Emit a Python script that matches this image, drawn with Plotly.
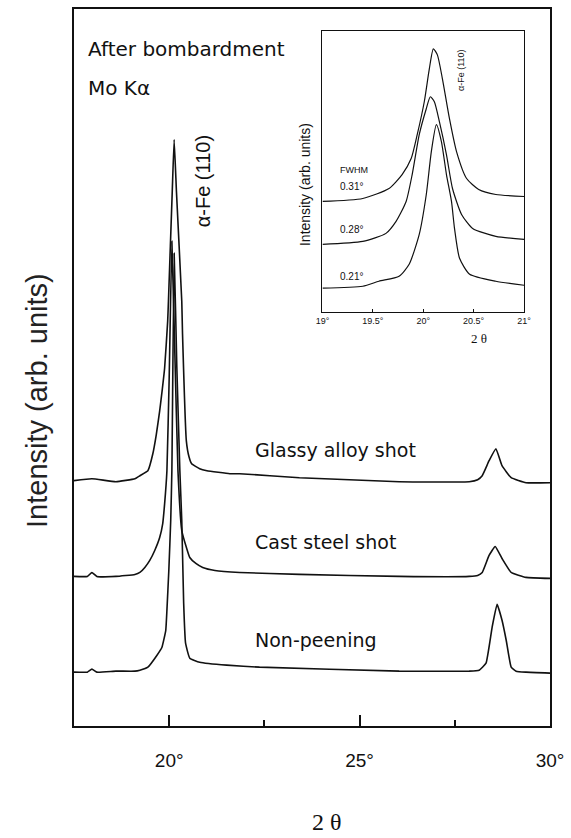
import plotly.graph_objects as go

# ---------------- main panel data (2θ in degrees, intensity arb. units, offset curves) ----------------
glassy_2theta = [17.5, 17.97, 18.6, 19.1, 19.23, 19.44, 19.57, 19.66, 19.75, 19.82, 19.88, 19.96, 19.98,
                 20.08, 20.13, 20.19, 20.33, 20.35, 20.45, 20.52, 20.59, 20.8, 20.99, 21.59, 21.85, 23.42,
                 26.04, 27.88, 28.1, 28.22, 28.4, 28.58, 28.74, 28.98, 29.37, 30.0]
glassy_intensity = [246, 248, 245, 248, 251, 256, 273, 292, 316, 338, 359, 406, 426,
                    536, 588, 536, 426, 393, 286, 270, 263, 258, 256, 253, 253, 249,
                    245, 245, 247, 251, 266, 278, 261, 249, 244, 244]

cast_2theta = [17.5, 17.85, 17.97, 18.1, 18.6, 19.1, 19.23, 19.36, 19.49, 19.62, 19.75, 19.83, 19.88, 19.94,
               20.0, 20.07, 20.15, 20.23, 20.33, 20.46, 20.54, 20.7, 20.88, 21.2, 21.85, 23.42, 26.04,
               27.88, 28.1, 28.22, 28.4, 28.56, 28.74, 28.98, 29.37, 30.0]
cast_intensity = [150, 150, 154, 150, 150, 152, 154, 159, 166, 176, 189, 203, 223, 256,
                  350, 486, 371, 256, 196, 178, 169, 163, 159, 156, 154, 152, 150,
                  150, 151, 154, 171, 180, 168, 154, 149, 148]

nonpeen_2theta = [17.5, 17.85, 17.97, 18.1, 18.6, 19.1, 19.23, 19.44, 19.68, 19.81, 19.91, 19.94, 19.99,
                  20.04, 20.07, 20.13, 20.2, 20.28, 20.33, 20.38, 20.43, 20.54, 20.8, 21.51, 22.37,
                  26.04, 27.88, 28.14, 28.32, 28.48, 28.61, 28.74, 28.85, 28.98, 29.11, 29.37, 30.0]
nonpeen_intensity = [54, 54, 57, 54, 55, 55, 56, 59, 71, 79, 96, 116, 156,
                     206, 256, 474, 360, 256, 206, 123, 83, 68, 64, 61, 59,
                     55, 55, 56, 63, 99, 122, 106, 86, 59, 55, 54, 53]

# ---------------- inset data (α-Fe(110) peak, offset curves) ----------------
inset_2theta_031 = [19.0, 19.4, 19.66, 19.79, 19.88, 19.94, 20.01, 20.06, 20.10, 20.14, 20.19, 20.26,
                    20.33, 20.43, 20.55, 20.72, 21.0]
inset_int_031 = [111, 114, 124, 138, 154, 178, 211, 244, 264, 258, 234, 194, 161, 134, 123, 118, 116]

inset_2theta_028 = [19.0, 19.4, 19.63, 19.73, 19.83, 19.89, 19.96, 20.03, 20.07, 20.11, 20.16, 20.23,
                    20.29, 20.38, 20.49, 20.72, 21.0]
inset_int_028 = [68, 71, 79, 91, 111, 138, 178, 204, 216, 211, 191, 158, 124, 98, 84, 76, 73]

inset_2theta_021 = [19.0, 19.4, 19.56, 19.76, 19.86, 19.96, 20.03, 20.08, 20.13, 20.18, 20.23, 20.28,
                    20.31, 20.36, 20.46, 20.72, 21.0]
inset_int_021 = [24, 26, 31, 36, 48, 78, 118, 161, 188, 171, 138, 111, 84, 54, 38, 31, 27]

# ---------------- ticks and labels ----------------
main_tickvals = [20, 25, 30]
main_ticktext = ["20°", "25°", "30°"]
main_minor_ticks = [22.5, 27.5]
inset_tickvals = [19, 19.5, 20, 20.5, 21]
inset_ticktext = ["19°", "19.5°", "20°", "20.5°", "21°"]
curve_labels = ["Glassy alloy shot", "Cast steel shot", "Non-peening"]
fwhm_labels = ["FWHM", "0.31°", "0.28°", "0.21°"]

BLACK = "#111111"
fig = go.Figure()

for xs, ys in [(glassy_2theta, glassy_intensity), (cast_2theta, cast_intensity),
               (nonpeen_2theta, nonpeen_intensity)]:
    fig.add_trace(go.Scatter(x=xs, y=ys, mode="lines",
                             line=dict(color=BLACK, width=1.6, shape="spline", smoothing=0.35),
                             xaxis="x", yaxis="y", showlegend=False, hoverinfo="skip"))

for xs, ys in [(inset_2theta_031, inset_int_031), (inset_2theta_028, inset_int_028),
               (inset_2theta_021, inset_int_021)]:
    fig.add_trace(go.Scatter(x=xs, y=ys, mode="lines", line=dict(color=BLACK, width=1.2, shape="spline", smoothing=0.6),
                             xaxis="x2", yaxis="y2", showlegend=False, hoverinfo="skip"))

W, H = 571, 838
L, R, T, B = 74, 20, 7, 112
PW, PH = W - L - R, H - T - B


def px(x):
    return (x - L) / PW


def py(y):
    return (H - B - y) / PH


fig.update_layout(
    width=W, height=H,
    margin=dict(l=L, r=R, t=T, b=B),
    paper_bgcolor="white", plot_bgcolor="white",
    showlegend=False,
    xaxis=dict(domain=[0, 1], range=[17.5, 30], showline=True, linecolor=BLACK, linewidth=1.6, mirror=True,
               ticks="inside", ticklen=11, tickwidth=1.5, tickcolor=BLACK,
               tickmode="array", tickvals=main_tickvals, ticktext=main_ticktext,
               tickfont=dict(family="Liberation Sans, Arial, sans-serif", size=19, color=BLACK),
               ticklabelstandoff=16,
               minor=dict(tickmode="array", tickvals=main_minor_ticks, ticks="inside", ticklen=6,
                          tickwidth=1.5, tickcolor=BLACK),
               showgrid=False, zeroline=False),
    yaxis=dict(domain=[0, 1], range=[0, 719], showline=True, linecolor=BLACK, linewidth=1.6, mirror=True,
               ticks="", showticklabels=False, showgrid=False, zeroline=False),
    xaxis2=dict(domain=[px(323), px(525)], anchor="y2", range=[19, 21], showline=True, linecolor=BLACK,
                linewidth=1.1, mirror=True, ticks="inside", ticklen=3, tickwidth=1, tickcolor=BLACK,
                tickmode="array", tickvals=inset_tickvals, ticktext=inset_ticktext,
                tickfont=dict(family="Liberation Sans, Arial, sans-serif", size=9, color=BLACK),
                showgrid=False, zeroline=False),
    yaxis2=dict(domain=[py(311), py(29)], anchor="x2", range=[0, 282], showline=True, linecolor=BLACK,
                linewidth=1.1, mirror=True, ticks="", showticklabels=False, showgrid=False, zeroline=False),
)

lab_font = dict(family="DejaVu Sans, sans-serif", size=20, color=BLACK)
ann = []
ann.append(dict(text="After bombardment", x=px(86), y=py(47), xanchor="left", yanchor="middle", font=lab_font))
ann.append(dict(text="Mo Kα", x=px(86), y=py(86), xanchor="left", yanchor="middle", font=lab_font))
ann.append(dict(text="α-Fe (110)", x=px(203), y=py(180), textangle=-90, xanchor="center", yanchor="middle",
                font=dict(family="Liberation Sans, Arial, sans-serif", size=20, color=BLACK)))
for txt, yy in zip(curve_labels, [449, 541, 640]):
    ann.append(dict(text=txt, x=px(253), y=py(yy), xanchor="left", yanchor="middle",
                    font=dict(family="DejaVu Sans, sans-serif", size=19, color=BLACK)))
ann.append(dict(text="Intensity (arb. units)", x=px(37), y=py(400), textangle=-90, xanchor="center",
                yanchor="middle", font=dict(family="Liberation Sans, Arial, sans-serif", size=29, color="#222222")))
ann.append(dict(text="2 θ", x=px(328), y=py(822), xanchor="center", yanchor="middle",
                font=dict(family="Liberation Serif, Times New Roman, serif", size=24, color=BLACK)))
# inset texts
ann.append(dict(text="Intensity (arb. units)", x=px(305), y=py(183), textangle=-90, xanchor="center",
                yanchor="middle", font=dict(family="Liberation Sans, Arial, sans-serif", size=14, color=BLACK)))
ann.append(dict(text="2 θ", x=px(480), y=py(337), xanchor="center", yanchor="middle",
                font=dict(family="Liberation Serif, Times New Roman, serif", size=13, color=BLACK)))
for txt, yy, sz in zip(fwhm_labels, [168, 185, 228, 275], [9, 10, 10, 10]):
    ann.append(dict(text=txt, x=px(339), y=py(yy), xanchor="left", yanchor="middle",
                    font=dict(family="Liberation Sans, Arial, sans-serif", size=sz, color=BLACK)))
ann.append(dict(text="α-Fe (110)", x=px(462), y=py(68), textangle=-90, xanchor="center", yanchor="middle",
                font=dict(family="Liberation Sans, Arial, sans-serif", size=9, color=BLACK)))

for a in ann:
    a.update(xref="paper", yref="paper", showarrow=False)
fig.update_layout(annotations=ann)

fig.write_html("out.html")
